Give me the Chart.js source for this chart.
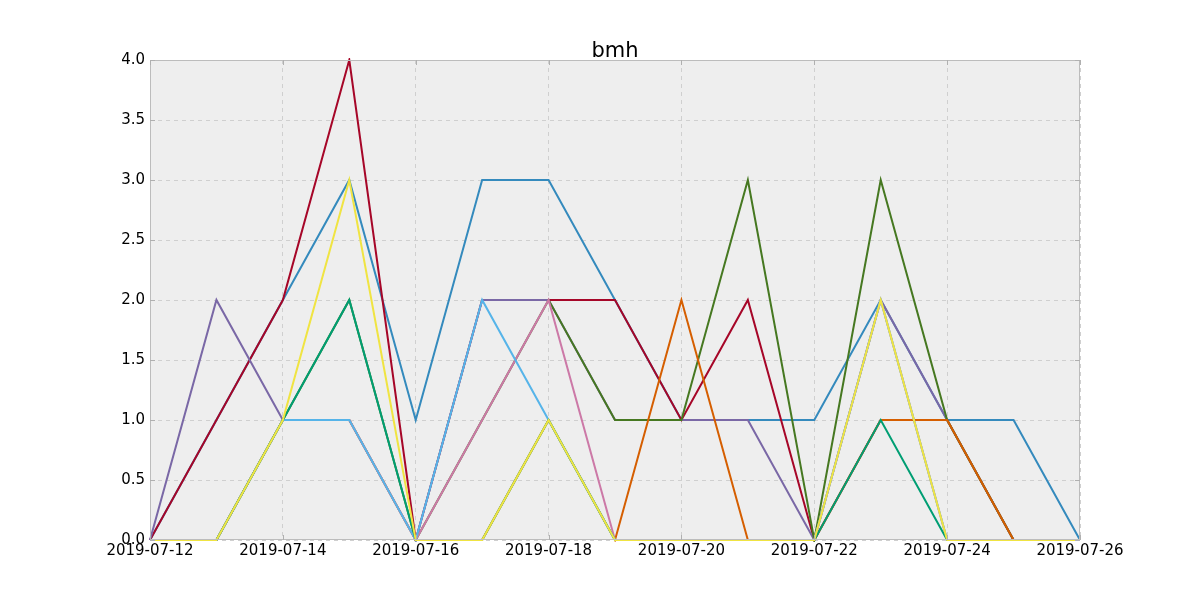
<!DOCTYPE html>
<html>
<head>
<meta charset="utf-8">
<script src="https://cdn.jsdelivr.net/npm/chart.js@4.4.1/dist/chart.umd.min.js"></script>
<style>
    html, body { margin: 0; padding: 0; background: #ffffff; }
    #wrap { width: 1200px; height: 600px; }
</style>
</head>
<body>
<div id="wrap"><canvas id="myChart" width="1200" height="600"></canvas></div>
<script>
// x 축 날짜
const dates = [
    '2019-07-12', '2019-07-13', '2019-07-14', '2019-07-15', '2019-07-16',
    '2019-07-17', '2019-07-18', '2019-07-19', '2019-07-20', '2019-07-21',
    '2019-07-22', '2019-07-23', '2019-07-24', '2019-07-25', '2019-07-26',
];

// 시리즈 값 (matplotlib bmh 순서대로)
const s1 = [0, 1, 2, 3, 1, 3, 3, 2, 1, 1, 1, 2, 1, 1, 0];
const s2 = [0, 1, 2, 4, 0, 2, 2, 2, 1, 2, 0, 1, 1, 0, 0];
const s3 = [0, 2, 1, 1, 0, 2, 2, 1, 1, 1, 0, 2, 1, 0, 0];
const s4 = [0, 0, 1, 2, 0, 1, 2, 1, 1, 3, 0, 3, 1, 0, 0];
const s5 = [0, 0, 1, 1, 0, 0, 1, 0, 2, 0, 0, 1, 1, 0, 0];
const s6 = [0, 0, 1, 1, 0, 1, 2, 0, 0, 0, 0, 2, 0, 0, 0];
const s7 = [0, 0, 1, 1, 0, 2, 1, 0, 0, 0, 0, 2, 0, 0, 0];
const s8 = [0, 0, 1, 2, 0, 0, 1, 0, 0, 0, 0, 1, 0, 0, 0];
const s9 = [0, 0, 1, 3, 0, 0, 1, 0, 0, 0, 0, 2, 0, 0, 0];

const seriesList = [s1, s2, s3, s4, s5, s6, s7, s8, s9];
const seriesNames = ['s1', 's2', 's3', 's4', 's5', 's6', 's7', 's8', 's9'];

// y 축 눈금
const yTicks = [0, 0.5, 1, 1.5, 2, 2.5, 3, 3.5, 4];

const titleText = 'bmh';

const colors = ['#348ABD', '#A60628', '#7A68A6', '#467821', '#D55E00', '#CC79A7', '#56B4E9', '#009E73', '#F0E442'];

const datasets = seriesList.map((values, i) => ({
    label: seriesNames[i],
    data: values,
    borderColor: colors[i],
    backgroundColor: colors[i],
    borderWidth: 2,
    pointRadius: 0,
    tension: 0,
    fill: false,
    clip: 2,
    // 나중 시리즈가 위에 그려지도록
    order: seriesList.length - i,
}));

// 배경, 테두리, 안쪽 눈금, 제목
const bmhFrame = {
    id: 'bmhFrame',
    beforeDraw(chart) {
        const { ctx, chartArea: a } = chart;
        ctx.save();
        ctx.fillStyle = '#eeeeee';
        ctx.fillRect(a.left, a.top, a.right - a.left, a.bottom - a.top);
        ctx.restore();
    },
    afterDraw(chart) {
        const { ctx, chartArea: a, scales } = chart;
        ctx.save();
        ctx.strokeStyle = '#bcbcbc';
        ctx.lineWidth = 1;
        ctx.strokeRect(a.left + 0.5, a.top + 0.5, a.right - a.left - 1, a.bottom - a.top - 1);

        ctx.strokeStyle = '#b0b0b0';
        ctx.beginPath();
        yTicks.forEach((v) => {
            const y = Math.round(scales.y.getPixelForValue(v)) + 0.5;
            ctx.moveTo(a.left, y);
            ctx.lineTo(a.left + 5, y);
            ctx.moveTo(a.right, y);
            ctx.lineTo(a.right - 5, y);
        });
        dates.forEach((d, i) => {
            if (i % 2 !== 0) return;
            const x = Math.round(scales.x.getPixelForValue(i)) + 0.5;
            ctx.moveTo(x, a.bottom);
            ctx.lineTo(x, a.bottom - 5);
            ctx.moveTo(x, a.top);
            ctx.lineTo(x, a.top + 5);
        });
        ctx.stroke();

        // 제목은 플롯 영역 가운데
        ctx.fillStyle = '#000000';
        ctx.font = '21px "DejaVu Sans"';
        ctx.textAlign = 'center';
        ctx.textBaseline = 'alphabetic';
        ctx.fillText(titleText, (a.left + a.right) / 2, a.top - 3);
        ctx.restore();
    },
};

const ctx = document.getElementById('myChart').getContext('2d');
const myChart = new Chart(ctx, {
    type: 'line',
    data: { labels: dates, datasets: datasets },
    options: {
        responsive: false,
        maintainAspectRatio: false,
        animation: false,
        layout: { padding: { left: 0, right: 120, top: 60, bottom: 0 } },
        plugins: {
            legend: { display: false },
            tooltip: { enabled: false },
            title: { display: false },
        },
        scales: {
            x: {
                type: 'category',
                offset: false,
                afterFit: (s) => { s.height = 60; },
                border: { display: false, dash: [4, 4] },
                grid: {
                    drawTicks: false,
                    color: (c) => (c.index % 2 === 0 ? '#cfcfcf' : 'rgba(0,0,0,0)'),
                },
                ticks: {
                    autoSkip: false,
                    maxRotation: 0,
                    padding: 2,
                    color: '#000000',
                    font: { family: 'DejaVu Sans', size: 15 },
                    callback: (v, i) => (i % 2 === 0 ? dates[i] : ''),
                },
            },
            y: {
                min: 0,
                max: 4,
                afterFit: (s) => { s.width = 150; },
                afterBuildTicks: (s) => { s.ticks = yTicks.map((v) => ({ value: v })); },
                border: { display: false, dash: [4, 4] },
                grid: { drawTicks: false, color: '#cfcfcf' },
                ticks: {
                    padding: 5,
                    color: '#000000',
                    font: { family: 'DejaVu Sans', size: 15 },
                    callback: (v) => Number(v).toFixed(1),
                },
            },
        },
    },
    plugins: [bmhFrame],
});
</script>
</body>
</html>
